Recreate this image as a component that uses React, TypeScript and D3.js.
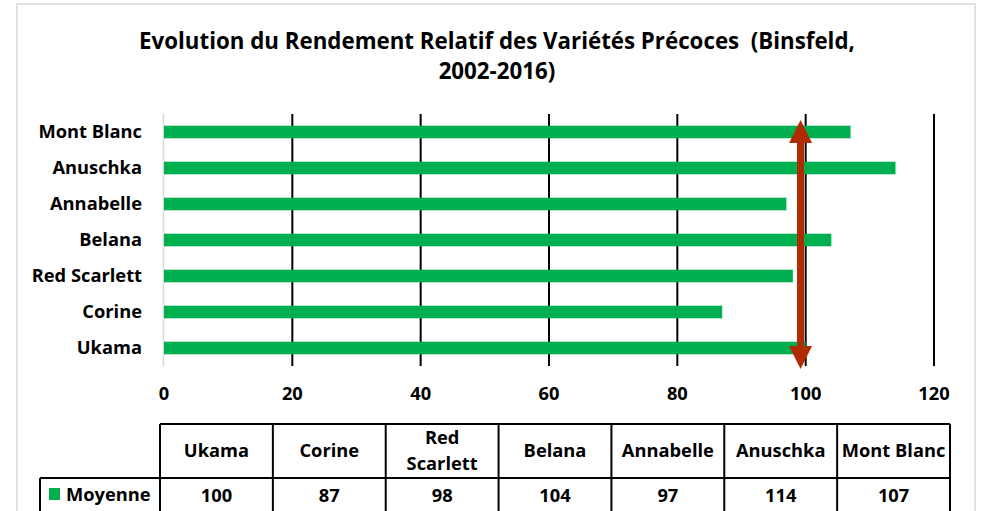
import React from "react";
import * as d3 from "d3";

const categories = ["Ukama", "Corine", "Red Scarlett", "Belana", "Annabelle", "Anuschka", "Mont Blanc"];
const values = [100, 87, 98, 104, 97, 114, 107];
const xTicks = [0, 20, 40, 60, 80, 100, 120];
const seriesName = "Moyenne";
const arrowValue = 99.2;
const titleLines = ["Evolution du Rendement Relatif des Variétés Précoces  (Binsfeld,", "2002-2016)"];

const W = 981;
const H = 511;
const FONT = "'Open Sans', 'Noto Sans', sans-serif";
const GREEN = "#00B050";
const ARROW = "#B02A02";
const FS = 18.3;

export default function App() {
  const x = d3.scaleLinear().domain([0, 120]).range([164, 934]);
  const yOrder = [...categories].reverse();
  const y = d3.scaleBand<string>().domain(yOrder).range([114, 366]).paddingInner(0.65).paddingOuter(0.325);
  const col = d3.scaleBand<string>().domain(categories).range([160, 950]);

  const ax = x(arrowValue);
  const yTop = 120;
  const yBot = 369;
  const headH = 23;
  const headW = 23;
  const shaftW = 7;

  const tableTop = 424;
  const rowDiv = 478;
  const tableBottom = 530;

  return (
    <svg width={W} height={H} style={{ position: "absolute", left: 0, top: 0, background: "#fff" }} fontFamily={FONT}>
      <rect x={0} y={0} width={W} height={H} fill="#fff" />
      <rect x={17} y={4} width={958} height={540} fill="#fff" stroke="#d9d9d9" strokeWidth={1.5} />

      {titleLines.map((t, i) => (
        <text key={i} x={497} y={49 + i * 30} textAnchor="middle" fontSize={22.3} fontWeight="bold" fill="#000" xmlSpace="preserve">
          {t}
        </text>
      ))}

      {/* gridlines */}
      {xTicks.filter((t) => t > 0).map((t) => (
        <line key={t} x1={x(t)} x2={x(t)} y1={114} y2={366} stroke="#000" strokeWidth={2} />
      ))}
      <line x1={x(0) - 0.5} x2={x(0) - 0.5} y1={114} y2={366} stroke="#d9d9d9" strokeWidth={1.5} />

      {/* bars */}
      {categories.map((c, i) => (
        <rect key={c} x={x(0)} y={y(c)!} width={x(values[i]) - x(0)} height={y.bandwidth()} fill={GREEN} />
      ))}

      {/* category labels */}
      {categories.map((c) => (
        <text key={c} x={142} y={y(c)! + y.bandwidth() / 2} dy="0.35em" textAnchor="end" fontSize={FS} fontWeight="bold" fill="#000">
          {c}
        </text>
      ))}

      {/* x tick labels */}
      {xTicks.map((t) => (
        <text key={t} x={x(t)} y={394} dy="0.35em" textAnchor="middle" fontSize={FS} fontWeight="bold" fill="#000">
          {t}
        </text>
      ))}

      {/* arrow */}
      <line x1={ax} x2={ax} y1={yTop + headH - 2} y2={yBot - headH + 2} stroke={ARROW} strokeWidth={shaftW} />
      <path d={`M${ax},${yTop} L${ax + headW / 2},${yTop + headH} L${ax - headW / 2},${yTop + headH} Z`} fill={ARROW} />
      <path d={`M${ax},${yBot} L${ax + headW / 2},${yBot - headH} L${ax - headW / 2},${yBot - headH} Z`} fill={ARROW} />

      {/* data table */}
      <g stroke="#000" strokeWidth={2}>
        <line x1={160} x2={950} y1={tableTop} y2={tableTop} />
        <line x1={40} x2={950} y1={rowDiv} y2={rowDiv} />
        <line x1={40} x2={40} y1={rowDiv} y2={tableBottom} />
        {categories.map((c) => (
          <line key={c} x1={col(c)!} x2={col(c)!} y1={tableTop} y2={tableBottom} />
        ))}
        <line x1={950} x2={950} y1={tableTop} y2={tableBottom} />
      </g>
      {categories.map((c) => {
        const cx = col(c)! + col.bandwidth() / 2;
        const words = c === "Red Scarlett" ? ["Red", "Scarlett"] : [c];
        return words.map((wd, j) => (
          <text
            key={c + j}
            x={cx}
            y={words.length === 1 ? 451 : 438 + j * 26}
            dy="0.35em"
            textAnchor="middle"
            fontSize={FS}
            fontWeight="bold"
            fill="#000"
          >
            {wd}
          </text>
        ));
      })}
      {categories.map((c, i) => (
        <text key={c} x={col(c)! + col.bandwidth() / 2} y={496} dy="0.35em" textAnchor="middle" fontSize={FS} fontWeight="bold" fill="#000">
          {values[i]}
        </text>
      ))}
      <rect x={49} y={488} width={11} height={12} fill={GREEN} />
      <text x={66} y={495} dy="0.35em" fontSize={FS} fontWeight="bold" fill="#000">
        {seriesName}
      </text>
    </svg>
  );
}
